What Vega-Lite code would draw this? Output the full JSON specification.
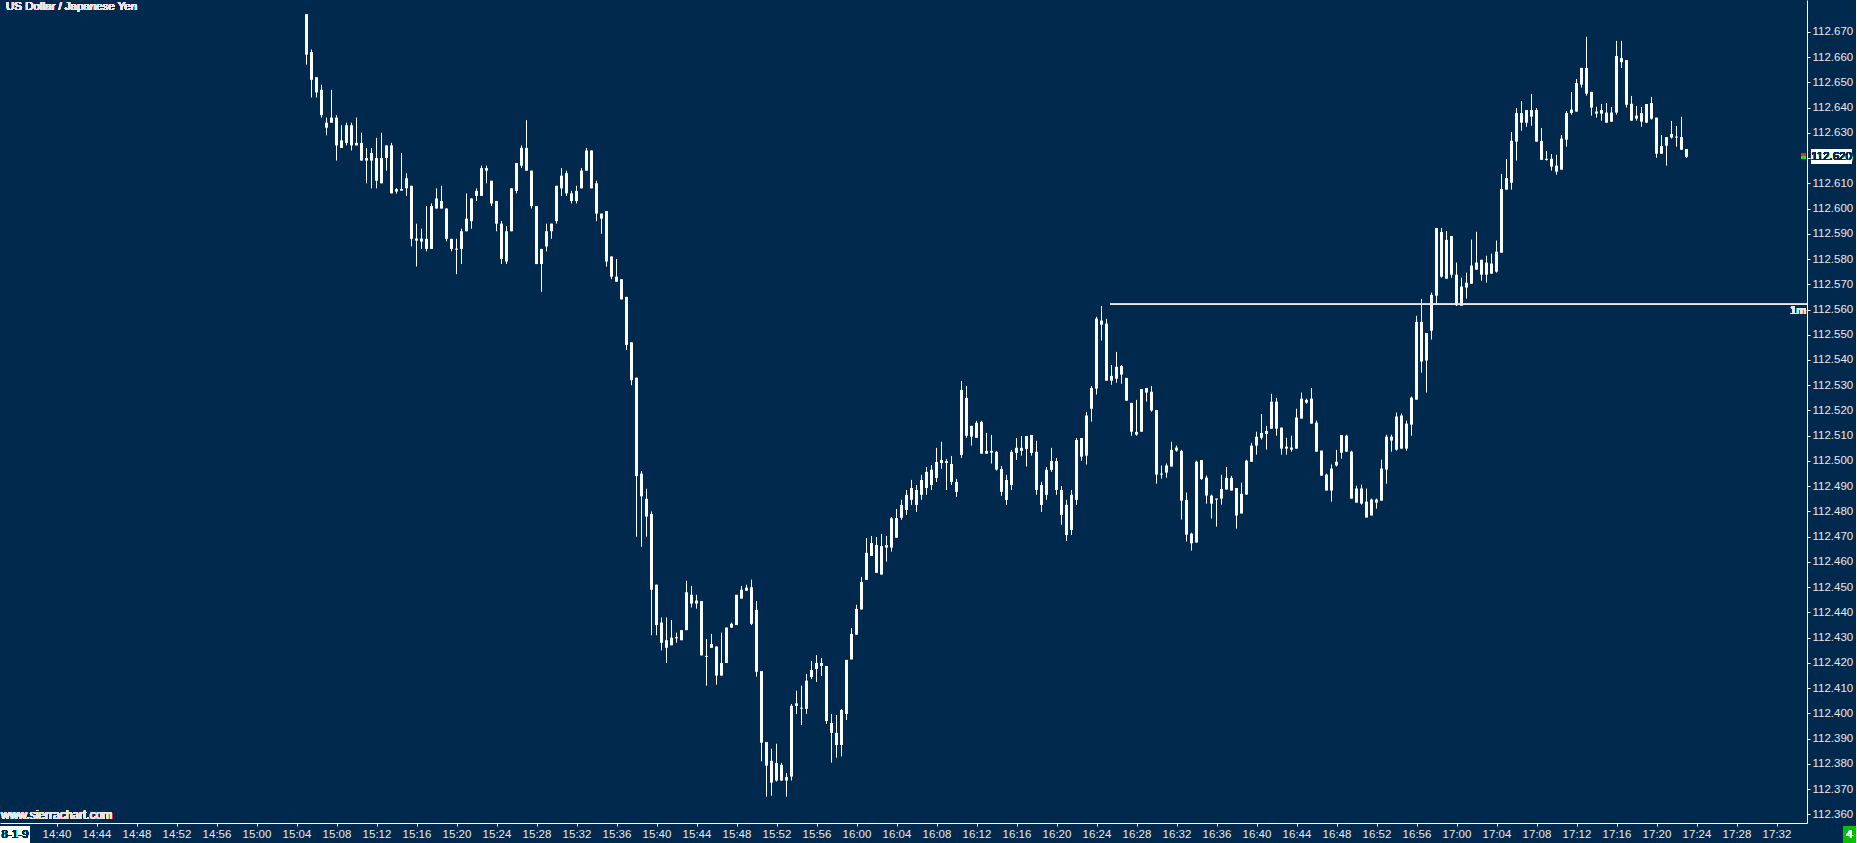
{
"$schema": "https://vega.github.io/schema/vega-lite/v6.json",
"width": 1807,
"height": 823,
"padding": 0,
"background": "#01294d",
"config": {
"view": {"stroke": null},
"axis": {"grid": false, "title": null, "domainColor": "#ffffff", "tickColor": "#ffffff", "tickSize": 3, "labelColor": "#e8e8e8", "labelFont": "Liberation Sans, Arial, Roboto", "labelFontSize": 11.5, "labelPadding": 2, "labelFlush": false, "labelOverlap": false},
"text": {"font": "Liberation Sans, Arial, Roboto", "fontSize": 11.5}
},
"data": {"values": [
{"t":"2018-01-09T15:05:00Z","o":112.677,"h":112.677,"l":112.657,"c":112.661},
{"t":"2018-01-09T15:05:30Z","o":112.662,"h":112.663,"l":112.644,"c":112.651},
{"t":"2018-01-09T15:06:00Z","o":112.652,"h":112.652,"l":112.644,"c":112.646},
{"t":"2018-01-09T15:06:30Z","o":112.647,"h":112.649,"l":112.636,"c":112.637},
{"t":"2018-01-09T15:07:00Z","o":112.634,"h":112.636,"l":112.629,"c":112.632},
{"t":"2018-01-09T15:07:30Z","o":112.634,"h":112.647,"l":112.634,"c":112.636},
{"t":"2018-01-09T15:08:00Z","o":112.636,"h":112.637,"l":112.619,"c":112.625},
{"t":"2018-01-09T15:08:30Z","o":112.624,"h":112.633,"l":112.624,"c":112.627},
{"t":"2018-01-09T15:09:00Z","o":112.626,"h":112.634,"l":112.625,"c":112.633},
{"t":"2018-01-09T15:09:30Z","o":112.633,"h":112.634,"l":112.623,"c":112.625},
{"t":"2018-01-09T15:10:00Z","o":112.625,"h":112.636,"l":112.625,"c":112.626},
{"t":"2018-01-09T15:10:30Z","o":112.626,"h":112.630,"l":112.619,"c":112.619},
{"t":"2018-01-09T15:11:00Z","o":112.619,"h":112.624,"l":112.610,"c":112.620},
{"t":"2018-01-09T15:11:30Z","o":112.622,"h":112.624,"l":112.608,"c":112.619},
{"t":"2018-01-09T15:12:00Z","o":112.620,"h":112.628,"l":112.608,"c":112.611},
{"t":"2018-01-09T15:12:30Z","o":112.610,"h":112.630,"l":112.610,"c":112.620},
{"t":"2018-01-09T15:13:00Z","o":112.620,"h":112.625,"l":112.615,"c":112.625},
{"t":"2018-01-09T15:13:30Z","o":112.625,"h":112.626,"l":112.606,"c":112.606},
{"t":"2018-01-09T15:14:00Z","o":112.6067,"h":112.6081,"l":112.6059,"c":112.6077},
{"t":"2018-01-09T15:14:30Z","o":112.6077,"h":112.622,"l":112.6071,"c":112.6071},
{"t":"2018-01-09T15:15:00Z","o":112.608,"h":112.614,"l":112.605,"c":112.612},
{"t":"2018-01-09T15:15:30Z","o":112.609,"h":112.609,"l":112.585,"c":112.588},
{"t":"2018-01-09T15:16:00Z","o":112.5881,"h":112.594,"l":112.577,"c":112.5873},
{"t":"2018-01-09T15:16:30Z","o":112.5869,"h":112.592,"l":112.584,"c":112.5881},
{"t":"2018-01-09T15:17:00Z","o":112.588,"h":112.601,"l":112.583,"c":112.584},
{"t":"2018-01-09T15:17:30Z","o":112.584,"h":112.602,"l":112.584,"c":112.601},
{"t":"2018-01-09T15:18:00Z","o":112.600,"h":112.608,"l":112.600,"c":112.604},
{"t":"2018-01-09T15:18:30Z","o":112.603,"h":112.609,"l":112.600,"c":112.600},
{"t":"2018-01-09T15:19:00Z","o":112.600,"h":112.600,"l":112.587,"c":112.588},
{"t":"2018-01-09T15:19:30Z","o":112.588,"h":112.588,"l":112.583,"c":112.584},
{"t":"2018-01-09T15:20:00Z","o":112.5841,"h":112.588,"l":112.574,"c":112.5837},
{"t":"2018-01-09T15:20:30Z","o":112.584,"h":112.592,"l":112.578,"c":112.591},
{"t":"2018-01-09T15:21:00Z","o":112.591,"h":112.606,"l":112.591,"c":112.596},
{"t":"2018-01-09T15:21:30Z","o":112.595,"h":112.604,"l":112.592,"c":112.604},
{"t":"2018-01-09T15:22:00Z","o":112.605,"h":112.608,"l":112.603,"c":112.607},
{"t":"2018-01-09T15:22:30Z","o":112.605,"h":112.617,"l":112.605,"c":112.616},
{"t":"2018-01-09T15:23:00Z","o":112.616,"h":112.617,"l":112.610,"c":112.615},
{"t":"2018-01-09T15:23:30Z","o":112.611,"h":112.611,"l":112.601,"c":112.602},
{"t":"2018-01-09T15:24:00Z","o":112.603,"h":112.603,"l":112.591,"c":112.594},
{"t":"2018-01-09T15:24:30Z","o":112.594,"h":112.595,"l":112.578,"c":112.580},
{"t":"2018-01-09T15:25:00Z","o":112.579,"h":112.593,"l":112.578,"c":112.591},
{"t":"2018-01-09T15:25:30Z","o":112.591,"h":112.608,"l":112.591,"c":112.608},
{"t":"2018-01-09T15:26:00Z","o":112.607,"h":112.618,"l":112.606,"c":112.618},
{"t":"2018-01-09T15:26:30Z","o":112.617,"h":112.625,"l":112.616,"c":112.624},
{"t":"2018-01-09T15:27:00Z","o":112.624,"h":112.635,"l":112.615,"c":112.615},
{"t":"2018-01-09T15:27:30Z","o":112.615,"h":112.615,"l":112.600,"c":112.601},
{"t":"2018-01-09T15:28:00Z","o":112.601,"h":112.601,"l":112.578,"c":112.578},
{"t":"2018-01-09T15:28:30Z","o":112.578,"h":112.584,"l":112.567,"c":112.584},
{"t":"2018-01-09T15:29:00Z","o":112.585,"h":112.594,"l":112.583,"c":112.591},
{"t":"2018-01-09T15:29:30Z","o":112.591,"h":112.594,"l":112.588,"c":112.594},
{"t":"2018-01-09T15:30:00Z","o":112.595,"h":112.609,"l":112.594,"c":112.609},
{"t":"2018-01-09T15:30:30Z","o":112.608,"h":112.616,"l":112.605,"c":112.613},
{"t":"2018-01-09T15:31:00Z","o":112.614,"h":112.615,"l":112.605,"c":112.606},
{"t":"2018-01-09T15:31:30Z","o":112.606,"h":112.607,"l":112.602,"c":112.603},
{"t":"2018-01-09T15:32:00Z","o":112.603,"h":112.609,"l":112.602,"c":112.607},
{"t":"2018-01-09T15:32:30Z","o":112.608,"h":112.616,"l":112.608,"c":112.615},
{"t":"2018-01-09T15:33:00Z","o":112.615,"h":112.624,"l":112.615,"c":112.623},
{"t":"2018-01-09T15:33:30Z","o":112.623,"h":112.623,"l":112.608,"c":112.608},
{"t":"2018-01-09T15:34:00Z","o":112.610,"h":112.611,"l":112.595,"c":112.598},
{"t":"2018-01-09T15:34:30Z","o":112.598,"h":112.598,"l":112.590,"c":112.596},
{"t":"2018-01-09T15:35:00Z","o":112.599,"h":112.599,"l":112.577,"c":112.579},
{"t":"2018-01-09T15:35:30Z","o":112.581,"h":112.581,"l":112.572,"c":112.573},
{"t":"2018-01-09T15:36:00Z","o":112.573,"h":112.580,"l":112.571,"c":112.571},
{"t":"2018-01-09T15:36:30Z","o":112.572,"h":112.572,"l":112.564,"c":112.564},
{"t":"2018-01-09T15:37:00Z","o":112.565,"h":112.565,"l":112.544,"c":112.546},
{"t":"2018-01-09T15:37:30Z","o":112.547,"h":112.547,"l":112.530,"c":112.532},
{"t":"2018-01-09T15:38:00Z","o":112.533,"h":112.533,"l":112.470,"c":112.494},
{"t":"2018-01-09T15:38:30Z","o":112.495,"h":112.496,"l":112.466,"c":112.486},
{"t":"2018-01-09T15:39:00Z","o":112.485,"h":112.489,"l":112.470,"c":112.478},
{"t":"2018-01-09T15:39:30Z","o":112.479,"h":112.480,"l":112.431,"c":112.449},
{"t":"2018-01-09T15:40:00Z","o":112.451,"h":112.451,"l":112.431,"c":112.435},
{"t":"2018-01-09T15:40:30Z","o":112.436,"h":112.438,"l":112.425,"c":112.428},
{"t":"2018-01-09T15:41:00Z","o":112.429,"h":112.438,"l":112.420,"c":112.426},
{"t":"2018-01-09T15:41:30Z","o":112.427,"h":112.437,"l":112.427,"c":112.430},
{"t":"2018-01-09T15:42:00Z","o":112.4297,"h":112.432,"l":112.428,"c":112.4302},
{"t":"2018-01-09T15:42:30Z","o":112.429,"h":112.433,"l":112.429,"c":112.433},
{"t":"2018-01-09T15:43:00Z","o":112.433,"h":112.4525,"l":112.433,"c":112.448},
{"t":"2018-01-09T15:43:30Z","o":112.447,"h":112.4505,"l":112.442,"c":112.4435},
{"t":"2018-01-09T15:44:00Z","o":112.4435,"h":112.447,"l":112.4415,"c":112.4447},
{"t":"2018-01-09T15:44:30Z","o":112.4445,"h":112.4445,"l":112.423,"c":112.423},
{"t":"2018-01-09T15:45:00Z","o":112.4228,"h":112.4295,"l":112.411,"c":112.4224},
{"t":"2018-01-09T15:45:30Z","o":112.426,"h":112.4315,"l":112.426,"c":112.4275},
{"t":"2018-01-09T15:46:00Z","o":112.4265,"h":112.4265,"l":112.4114,"c":112.415},
{"t":"2018-01-09T15:46:30Z","o":112.415,"h":112.432,"l":112.415,"c":112.420},
{"t":"2018-01-09T15:47:00Z","o":112.420,"h":112.434,"l":112.420,"c":112.434},
{"t":"2018-01-09T15:47:30Z","o":112.434,"h":112.436,"l":112.434,"c":112.4355},
{"t":"2018-01-09T15:48:00Z","o":112.435,"h":112.447,"l":112.435,"c":112.447},
{"t":"2018-01-09T15:48:30Z","o":112.4455,"h":112.4505,"l":112.4455,"c":112.449},
{"t":"2018-01-09T15:49:00Z","o":112.4486,"h":112.451,"l":112.4486,"c":112.4498},
{"t":"2018-01-09T15:49:30Z","o":112.450,"h":112.453,"l":112.435,"c":112.4355},
{"t":"2018-01-09T15:50:00Z","o":112.441,"h":112.4445,"l":112.4146,"c":112.4165},
{"t":"2018-01-09T15:50:30Z","o":112.4168,"h":112.4168,"l":112.381,"c":112.3884},
{"t":"2018-01-09T15:51:00Z","o":112.3887,"h":112.3887,"l":112.367,"c":112.3793},
{"t":"2018-01-09T15:51:30Z","o":112.3812,"h":112.386,"l":112.3674,"c":112.3726},
{"t":"2018-01-09T15:52:00Z","o":112.3734,"h":112.388,"l":112.373,"c":112.3804},
{"t":"2018-01-09T15:52:30Z","o":112.3796,"h":112.3804,"l":112.3734,"c":112.3734},
{"t":"2018-01-09T15:53:00Z","o":112.3734,"h":112.3764,"l":112.367,"c":112.3748},
{"t":"2018-01-09T15:53:30Z","o":112.375,"h":112.4037,"l":112.3734,"c":112.403},
{"t":"2018-01-09T15:54:00Z","o":112.403,"h":112.409,"l":112.3998,"c":112.404},
{"t":"2018-01-09T15:54:30Z","o":112.4023,"h":112.411,"l":112.3954,"c":112.4019},
{"t":"2018-01-09T15:55:00Z","o":112.4018,"h":112.4156,"l":112.3998,"c":112.413},
{"t":"2018-01-09T15:55:30Z","o":112.4144,"h":112.4208,"l":112.4136,"c":112.4172},
{"t":"2018-01-09T15:56:00Z","o":112.4176,"h":112.4231,"l":112.4125,"c":112.420},
{"t":"2018-01-09T15:56:30Z","o":112.420,"h":112.422,"l":112.4148,"c":112.4188},
{"t":"2018-01-09T15:57:00Z","o":112.4188,"h":112.4188,"l":112.3958,"c":112.397},
{"t":"2018-01-09T15:57:30Z","o":112.3962,"h":112.3998,"l":112.3805,"c":112.3923},
{"t":"2018-01-09T15:58:00Z","o":112.3923,"h":112.3994,"l":112.3825,"c":112.3875},
{"t":"2018-01-09T15:58:30Z","o":112.3875,"h":112.4018,"l":112.383,"c":112.4014},
{"t":"2018-01-09T15:59:00Z","o":112.3998,"h":112.4212,"l":112.3974,"c":112.4212},
{"t":"2018-01-09T15:59:30Z","o":112.4214,"h":112.4338,"l":112.4214,"c":112.4315},
{"t":"2018-01-09T16:00:00Z","o":112.4312,"h":112.443,"l":112.4312,"c":112.4414},
{"t":"2018-01-09T16:00:30Z","o":112.4412,"h":112.4541,"l":112.4412,"c":112.4521},
{"t":"2018-01-09T16:01:00Z","o":112.4529,"h":112.4695,"l":112.4529,"c":112.4636},
{"t":"2018-01-09T16:01:30Z","o":112.4624,"h":112.4703,"l":112.4624,"c":112.4675},
{"t":"2018-01-09T16:02:00Z","o":112.4667,"h":112.4699,"l":112.4557,"c":112.4557},
{"t":"2018-01-09T16:02:30Z","o":112.455,"h":112.4711,"l":112.455,"c":112.4663},
{"t":"2018-01-09T16:03:00Z","o":112.4657,"h":112.4703,"l":112.4601,"c":112.4667},
{"t":"2018-01-09T16:03:30Z","o":112.4657,"h":112.4778,"l":112.4641,"c":112.4773},
{"t":"2018-01-09T16:04:00Z","o":112.4774,"h":112.481,"l":112.4696,"c":112.4696},
{"t":"2018-01-09T16:04:30Z","o":112.4775,"h":112.4846,"l":112.4767,"c":112.4826},
{"t":"2018-01-09T16:05:00Z","o":112.4806,"h":112.4885,"l":112.4786,"c":112.4866},
{"t":"2018-01-09T16:05:30Z","o":112.4846,"h":112.4925,"l":112.4826,"c":112.4893},
{"t":"2018-01-09T16:06:00Z","o":112.4885,"h":112.4905,"l":112.4798,"c":112.4826},
{"t":"2018-01-09T16:06:30Z","o":112.4866,"h":112.4945,"l":112.4846,"c":112.4925},
{"t":"2018-01-09T16:07:00Z","o":112.4893,"h":112.4976,"l":112.4866,"c":112.4957},
{"t":"2018-01-09T16:07:30Z","o":112.4965,"h":112.4984,"l":112.4885,"c":112.4905},
{"t":"2018-01-09T16:08:00Z","o":112.4933,"h":112.5052,"l":112.4917,"c":112.4996},
{"t":"2018-01-09T16:08:30Z","o":112.4992,"h":112.5076,"l":112.4969,"c":112.5004},
{"t":"2018-01-09T16:09:00Z","o":112.500,"h":112.5008,"l":112.4885,"c":112.4992},
{"t":"2018-01-09T16:09:30Z","o":112.4988,"h":112.502,"l":112.4905,"c":112.4917},
{"t":"2018-01-09T16:10:00Z","o":112.4917,"h":112.4929,"l":112.4858,"c":112.4878},
{"t":"2018-01-09T16:10:30Z","o":112.5024,"h":112.5317,"l":112.5012,"c":112.5281},
{"t":"2018-01-09T16:11:00Z","o":112.525,"h":112.5297,"l":112.5092,"c":112.510},
{"t":"2018-01-09T16:11:30Z","o":112.5096,"h":112.5139,"l":112.5061,"c":112.5139},
{"t":"2018-01-09T16:12:00Z","o":112.5092,"h":112.5159,"l":112.5092,"c":112.5151},
{"t":"2018-01-09T16:12:30Z","o":112.5155,"h":112.5159,"l":112.5029,"c":112.5029},
{"t":"2018-01-09T16:13:00Z","o":112.5029,"h":112.5111,"l":112.5029,"c":112.504},
{"t":"2018-01-09T16:13:30Z","o":112.504,"h":112.5103,"l":112.499,"c":112.5033},
{"t":"2018-01-09T16:14:00Z","o":112.5036,"h":112.504,"l":112.4962,"c":112.4966},
{"t":"2018-01-09T16:14:30Z","o":112.4969,"h":112.498,"l":112.4862,"c":112.4878},
{"t":"2018-01-09T16:15:00Z","o":112.4846,"h":112.4945,"l":112.4826,"c":112.4925},
{"t":"2018-01-09T16:15:30Z","o":112.4905,"h":112.5044,"l":112.4885,"c":112.5036},
{"t":"2018-01-09T16:16:00Z","o":112.5032,"h":112.5091,"l":112.5004,"c":112.5052},
{"t":"2018-01-09T16:16:30Z","o":112.5052,"h":112.5099,"l":112.5021,"c":112.504},
{"t":"2018-01-09T16:17:00Z","o":112.5048,"h":112.5099,"l":112.4978,"c":112.5099},
{"t":"2018-01-09T16:17:30Z","o":112.5103,"h":112.5103,"l":112.5021,"c":112.5032},
{"t":"2018-01-09T16:18:00Z","o":112.5036,"h":112.508,"l":112.4866,"c":112.4885},
{"t":"2018-01-09T16:18:30Z","o":112.4905,"h":112.4917,"l":112.4798,"c":112.4826},
{"t":"2018-01-09T16:19:00Z","o":112.4866,"h":112.4976,"l":112.4846,"c":112.4965},
{"t":"2018-01-09T16:19:30Z","o":112.4965,"h":112.5052,"l":112.4957,"c":112.500},
{"t":"2018-01-09T16:20:00Z","o":112.500,"h":112.5012,"l":112.4866,"c":112.4885},
{"t":"2018-01-09T16:20:30Z","o":112.4885,"h":112.4901,"l":112.4747,"c":112.4786},
{"t":"2018-01-09T16:21:00Z","o":112.4826,"h":112.4846,"l":112.4683,"c":112.4707},
{"t":"2018-01-09T16:21:30Z","o":112.4727,"h":112.4885,"l":112.4707,"c":112.4866},
{"t":"2018-01-09T16:22:00Z","o":112.4846,"h":112.5091,"l":112.4826,"c":112.5083},
{"t":"2018-01-09T16:22:30Z","o":112.5091,"h":112.5091,"l":112.5001,"c":112.5017},
{"t":"2018-01-09T16:23:00Z","o":112.5021,"h":112.5194,"l":112.4986,"c":112.518},
{"t":"2018-01-09T16:23:30Z","o":112.5207,"h":112.5297,"l":112.5156,"c":112.5289},
{"t":"2018-01-09T16:24:00Z","o":112.5287,"h":112.5571,"l":112.5263,"c":112.5564},
{"t":"2018-01-09T16:24:30Z","o":112.5556,"h":112.5614,"l":112.5477,"c":112.554},
{"t":"2018-01-09T16:25:00Z","o":112.5544,"h":112.5563,"l":112.5318,"c":112.5318},
{"t":"2018-01-09T16:25:30Z","o":112.5318,"h":112.538,"l":112.5302,"c":112.5337},
{"t":"2018-01-09T16:26:00Z","o":112.5326,"h":112.5432,"l":112.531,"c":112.5373},
{"t":"2018-01-09T16:26:30Z","o":112.5376,"h":112.538,"l":112.5306,"c":112.5342},
{"t":"2018-01-09T16:27:00Z","o":112.5329,"h":112.5329,"l":112.5239,"c":112.5239},
{"t":"2018-01-09T16:27:30Z","o":112.523,"h":112.523,"l":112.510,"c":112.5116},
{"t":"2018-01-09T16:28:00Z","o":112.5104,"h":112.5242,"l":112.510,"c":112.5115},
{"t":"2018-01-09T16:28:30Z","o":112.5116,"h":112.5285,"l":112.5116,"c":112.5285},
{"t":"2018-01-09T16:29:00Z","o":112.5289,"h":112.5289,"l":112.5235,"c":112.5271},
{"t":"2018-01-09T16:29:30Z","o":112.5274,"h":112.5297,"l":112.5195,"c":112.520},
{"t":"2018-01-09T16:30:00Z","o":112.5202,"h":112.5202,"l":112.491,"c":112.4946},
{"t":"2018-01-09T16:30:30Z","o":112.4946,"h":112.4982,"l":112.493,"c":112.495},
{"t":"2018-01-09T16:31:00Z","o":112.4954,"h":112.499,"l":112.4934,"c":112.4982},
{"t":"2018-01-09T16:31:30Z","o":112.4978,"h":112.5076,"l":112.4978,"c":112.5044},
{"t":"2018-01-09T16:32:00Z","o":112.5041,"h":112.5061,"l":112.5037,"c":112.5053},
{"t":"2018-01-09T16:32:30Z","o":112.504,"h":112.5044,"l":112.4768,"c":112.4843},
{"t":"2018-01-09T16:33:00Z","o":112.4846,"h":112.4875,"l":112.4681,"c":112.4708},
{"t":"2018-01-09T16:33:30Z","o":112.4712,"h":112.4716,"l":112.4645,"c":112.4674},
{"t":"2018-01-09T16:34:00Z","o":112.4677,"h":112.5001,"l":112.4677,"c":112.4997},
{"t":"2018-01-09T16:34:30Z","o":112.5004,"h":112.5004,"l":112.4925,"c":112.4929},
{"t":"2018-01-09T16:35:00Z","o":112.4934,"h":112.4942,"l":112.4831,"c":112.4863},
{"t":"2018-01-09T16:35:30Z","o":112.4863,"h":112.4867,"l":112.4772,"c":112.4831},
{"t":"2018-01-09T16:36:00Z","o":112.4847,"h":112.4851,"l":112.474,"c":112.4851},
{"t":"2018-01-09T16:36:30Z","o":112.4851,"h":112.4945,"l":112.4827,"c":112.4889},
{"t":"2018-01-09T16:37:00Z","o":112.4887,"h":112.4976,"l":112.4887,"c":112.4933},
{"t":"2018-01-09T16:37:30Z","o":112.4933,"h":112.4941,"l":112.4883,"c":112.4883},
{"t":"2018-01-09T16:38:00Z","o":112.4893,"h":112.4893,"l":112.4732,"c":112.4784},
{"t":"2018-01-09T16:38:30Z","o":112.4792,"h":112.4914,"l":112.4792,"c":112.487},
{"t":"2018-01-09T16:39:00Z","o":112.4867,"h":112.5005,"l":112.4867,"c":112.5001},
{"t":"2018-01-09T16:39:30Z","o":112.4997,"h":112.5072,"l":112.4997,"c":112.5061},
{"t":"2018-01-09T16:40:00Z","o":112.5061,"h":112.5116,"l":112.5025,"c":112.5096},
{"t":"2018-01-09T16:40:30Z","o":112.5092,"h":112.5186,"l":112.5085,"c":112.5111},
{"t":"2018-01-09T16:41:00Z","o":112.5119,"h":112.5139,"l":112.5045,"c":112.5107},
{"t":"2018-01-09T16:41:30Z","o":112.5128,"h":112.5266,"l":112.5128,"c":112.5235},
{"t":"2018-01-09T16:42:00Z","o":112.5235,"h":112.525,"l":112.510,"c":112.5128},
{"t":"2018-01-09T16:42:30Z","o":112.5132,"h":112.5132,"l":112.5025,"c":112.5049},
{"t":"2018-01-09T16:43:00Z","o":112.5049,"h":112.5092,"l":112.5025,"c":112.5057},
{"t":"2018-01-09T16:43:30Z","o":112.5053,"h":112.510,"l":112.5037,"c":112.5045},
{"t":"2018-01-09T16:44:00Z","o":112.5049,"h":112.5207,"l":112.5049,"c":112.5172},
{"t":"2018-01-09T16:44:30Z","o":112.5168,"h":112.5271,"l":112.5168,"c":112.5247},
{"t":"2018-01-09T16:45:00Z","o":112.5242,"h":112.5247,"l":112.5227,"c":112.5231},
{"t":"2018-01-09T16:45:30Z","o":112.5247,"h":112.5289,"l":112.5148,"c":112.5148},
{"t":"2018-01-09T16:46:00Z","o":112.5152,"h":112.516,"l":112.5037,"c":112.5037},
{"t":"2018-01-09T16:46:30Z","o":112.5041,"h":112.5041,"l":112.4942,"c":112.4942},
{"t":"2018-01-09T16:47:00Z","o":112.4946,"h":112.495,"l":112.4883,"c":112.4883},
{"t":"2018-01-09T16:47:30Z","o":112.4883,"h":112.4986,"l":112.4839,"c":112.497},
{"t":"2018-01-09T16:48:00Z","o":112.4982,"h":112.5044,"l":112.4978,"c":112.4997},
{"t":"2018-01-09T16:48:30Z","o":112.5033,"h":112.5103,"l":112.5009,"c":112.5103},
{"t":"2018-01-09T16:49:00Z","o":112.510,"h":112.5104,"l":112.5037,"c":112.5037},
{"t":"2018-01-09T16:49:30Z","o":112.5037,"h":112.5041,"l":112.4851,"c":112.4851},
{"t":"2018-01-09T16:50:00Z","o":112.4891,"h":112.4902,"l":112.4835,"c":112.4835},
{"t":"2018-01-09T16:50:30Z","o":112.4831,"h":112.4906,"l":112.4827,"c":112.4891},
{"t":"2018-01-09T16:51:00Z","o":112.4839,"h":112.4891,"l":112.4776,"c":112.4776},
{"t":"2018-01-09T16:51:30Z","o":112.4784,"h":112.4851,"l":112.4784,"c":112.4847},
{"t":"2018-01-09T16:52:00Z","o":112.4835,"h":112.4851,"l":112.4811,"c":112.4847},
{"t":"2018-01-09T16:52:30Z","o":112.4843,"h":112.5005,"l":112.4843,"c":112.497},
{"t":"2018-01-09T16:53:00Z","o":112.4966,"h":112.5104,"l":112.491,"c":112.5096},
{"t":"2018-01-09T16:53:30Z","o":112.5096,"h":112.5104,"l":112.5037,"c":112.5081},
{"t":"2018-01-09T16:54:00Z","o":112.5045,"h":112.5192,"l":112.5041,"c":112.5176},
{"t":"2018-01-09T16:54:30Z","o":112.518,"h":112.5188,"l":112.5049,"c":112.5049},
{"t":"2018-01-09T16:55:00Z","o":112.5049,"h":112.516,"l":112.5041,"c":112.5148},
{"t":"2018-01-09T16:55:30Z","o":112.5144,"h":112.5255,"l":112.510,"c":112.5251},
{"t":"2018-01-09T16:56:00Z","o":112.5243,"h":112.5575,"l":112.5243,"c":112.5551},
{"t":"2018-01-09T16:56:30Z","o":112.5551,"h":112.5642,"l":112.535,"c":112.5394},
{"t":"2018-01-09T16:57:00Z","o":112.5398,"h":112.5507,"l":112.5271,"c":112.5507},
{"t":"2018-01-09T16:57:30Z","o":112.5516,"h":112.5667,"l":112.5481,"c":112.5658},
{"t":"2018-01-09T16:58:00Z","o":112.5655,"h":112.5923,"l":112.5622,"c":112.5923},
{"t":"2018-01-09T16:58:30Z","o":112.5907,"h":112.5923,"l":112.5726,"c":112.573},
{"t":"2018-01-09T16:59:00Z","o":112.5876,"h":112.5911,"l":112.5722,"c":112.5722},
{"t":"2018-01-09T16:59:30Z","o":112.5738,"h":112.5891,"l":112.5726,"c":112.5891},
{"t":"2018-01-09T17:00:00Z","o":112.5738,"h":112.5786,"l":112.5614,"c":112.5617},
{"t":"2018-01-09T17:00:30Z","o":112.5615,"h":112.5726,"l":112.5615,"c":112.5691},
{"t":"2018-01-09T17:01:00Z","o":112.5687,"h":112.5746,"l":112.5643,"c":112.5706},
{"t":"2018-01-09T17:01:30Z","o":112.5702,"h":112.5877,"l":112.5702,"c":112.5774},
{"t":"2018-01-09T17:02:00Z","o":112.5758,"h":112.5908,"l":112.5758,"c":112.5786},
{"t":"2018-01-09T17:02:30Z","o":112.5797,"h":112.5797,"l":112.5714,"c":112.5738},
{"t":"2018-01-09T17:03:00Z","o":112.5738,"h":112.5813,"l":112.5706,"c":112.5786},
{"t":"2018-01-09T17:03:30Z","o":112.5782,"h":112.5821,"l":112.5742,"c":112.5742},
{"t":"2018-01-09T17:04:00Z","o":112.575,"h":112.5873,"l":112.5746,"c":112.5829},
{"t":"2018-01-09T17:04:30Z","o":112.5825,"h":112.6137,"l":112.5825,"c":112.6077},
{"t":"2018-01-09T17:05:00Z","o":112.6075,"h":112.6196,"l":112.6075,"c":112.6121},
{"t":"2018-01-09T17:05:30Z","o":112.6102,"h":112.6303,"l":112.6075,"c":112.6268},
{"t":"2018-01-09T17:06:00Z","o":112.6265,"h":112.6398,"l":112.619,"c":112.6378},
{"t":"2018-01-09T17:06:30Z","o":112.6378,"h":112.6426,"l":112.6308,"c":112.634},
{"t":"2018-01-09T17:07:00Z","o":112.634,"h":112.639,"l":112.6324,"c":112.639},
{"t":"2018-01-09T17:07:30Z","o":112.639,"h":112.6454,"l":112.6328,"c":112.6364},
{"t":"2018-01-09T17:08:00Z","o":112.639,"h":112.6398,"l":112.6265,"c":112.6265},
{"t":"2018-01-09T17:08:30Z","o":112.6268,"h":112.6319,"l":112.6193,"c":112.6193},
{"t":"2018-01-09T17:09:00Z","o":112.6192,"h":112.6228,"l":112.619,"c":112.6197},
{"t":"2018-01-09T17:09:30Z","o":112.6197,"h":112.6216,"l":112.615,"c":112.6166},
{"t":"2018-01-09T17:10:00Z","o":112.617,"h":112.6213,"l":112.6134,"c":112.6146},
{"t":"2018-01-09T17:10:30Z","o":112.6154,"h":112.6291,"l":112.6154,"c":112.6277},
{"t":"2018-01-09T17:11:00Z","o":112.6273,"h":112.6386,"l":112.6245,"c":112.6378},
{"t":"2018-01-09T17:11:30Z","o":112.6378,"h":112.6462,"l":112.6372,"c":112.6392},
{"t":"2018-01-09T17:12:00Z","o":112.6384,"h":112.6513,"l":112.6384,"c":112.6497},
{"t":"2018-01-09T17:12:30Z","o":112.6491,"h":112.6557,"l":112.6479,"c":112.6557},
{"t":"2018-01-09T17:13:00Z","o":112.6557,"h":112.668,"l":112.6447,"c":112.6455},
{"t":"2018-01-09T17:13:30Z","o":112.6462,"h":112.6462,"l":112.6368,"c":112.640},
{"t":"2018-01-09T17:14:00Z","o":112.6384,"h":112.6403,"l":112.636,"c":112.6376},
{"t":"2018-01-09T17:14:30Z","o":112.6376,"h":112.6414,"l":112.6348,"c":112.639},
{"t":"2018-01-09T17:15:00Z","o":112.638,"h":112.6418,"l":112.634,"c":112.634},
{"t":"2018-01-09T17:15:30Z","o":112.6344,"h":112.6402,"l":112.6344,"c":112.638},
{"t":"2018-01-09T17:16:00Z","o":112.638,"h":112.6664,"l":112.6372,"c":112.6604},
{"t":"2018-01-09T17:16:30Z","o":112.6596,"h":112.6664,"l":112.6557,"c":112.658},
{"t":"2018-01-09T17:17:00Z","o":112.6588,"h":112.6588,"l":112.640,"c":112.6411},
{"t":"2018-01-09T17:17:30Z","o":112.6415,"h":112.6446,"l":112.6348,"c":112.6348},
{"t":"2018-01-09T17:18:00Z","o":112.6356,"h":112.6406,"l":112.6348,"c":112.6368},
{"t":"2018-01-09T17:18:30Z","o":112.6344,"h":112.6402,"l":112.6324,"c":112.6378},
{"t":"2018-01-09T17:19:00Z","o":112.634,"h":112.6414,"l":112.634,"c":112.6414},
{"t":"2018-01-09T17:19:30Z","o":112.6418,"h":112.6442,"l":112.6352,"c":112.6356},
{"t":"2018-01-09T17:20:00Z","o":112.636,"h":112.636,"l":112.6201,"c":112.6217},
{"t":"2018-01-09T17:20:30Z","o":112.6217,"h":112.6291,"l":112.6217,"c":112.6248},
{"t":"2018-01-09T17:21:00Z","o":112.6249,"h":112.6283,"l":112.617,"c":112.6283},
{"t":"2018-01-09T17:21:30Z","o":112.6281,"h":112.6347,"l":112.6277,"c":112.6295},
{"t":"2018-01-09T17:22:00Z","o":112.6285,"h":112.6327,"l":112.6245,"c":112.6281},
{"t":"2018-01-09T17:22:30Z","o":112.6283,"h":112.6363,"l":112.6233,"c":112.6233},
{"t":"2018-01-09T17:23:00Z","o":112.6236,"h":112.6236,"l":112.620,"c":112.6205}
]},
"layer": [
{
"mark": {"type": "rule", "color": "#ffffff", "strokeWidth": 1},
"encoding": {
"x": {"field": "t", "type": "temporal",
"scale": {"type": "utc", "domain": [1515508461000, 1515519303000], "padding": 0, "nice": false},
"axis": {"format": "%H:%M", "labelOverlap": false, "tickCount": 60, "values": [1515508800000, 1515509040000, 1515509280000, 1515509520000, 1515509760000, 1515510000000, 1515510240000, 1515510480000, 1515510720000, 1515510960000, 1515511200000, 1515511440000, 1515511680000, 1515511920000, 1515512160000, 1515512400000, 1515512640000, 1515512880000, 1515513120000, 1515513360000, 1515513600000, 1515513840000, 1515514080000, 1515514320000, 1515514560000, 1515514800000, 1515515040000, 1515515280000, 1515515520000, 1515515760000, 1515516000000, 1515516240000, 1515516480000, 1515516720000, 1515516960000, 1515517200000, 1515517440000, 1515517680000, 1515517920000, 1515518160000, 1515518400000, 1515518640000, 1515518880000, 1515519120000]}},
"y": {"field": "l", "type": "quantitative",
"scale": {"domain": [112.3566, 112.6826], "nice": false, "zero": false, "padding": 0},
"axis": {"orient": "right", "format": ".3f", "labelOverlap": false, "labelBound": false, "tickCount": 40,
"values": [112.36, 112.37, 112.38, 112.39, 112.40, 112.41, 112.42, 112.43, 112.44, 112.45, 112.46, 112.47, 112.48, 112.49, 112.50, 112.51, 112.52, 112.53, 112.54, 112.55, 112.56, 112.57, 112.58, 112.59, 112.60, 112.61, 112.62, 112.63, 112.64, 112.65, 112.66, 112.67]}},
"y2": {"field": "h"}
}
},
{
"mark": {"type": "bar", "color": "#ffffff", "width": 3},
"encoding": {
"x": {"field": "t", "type": "temporal"},
"y": {"field": "o", "type": "quantitative"},
"y2": {"field": "c"}
}
},
{
"mark": {"type": "rule", "color": "#e6e6e6", "strokeWidth": 1},
"encoding": {
"x": {"datum": 1515515124000, "type": "temporal"},
"x2": {"datum": 1515519303000},
"y": {"datum": 112.562, "type": "quantitative"}
}
},
{
"mark": {"type": "text", "text": "1m", "align": "right", "baseline": "top", "dx": -1, "dy": 1, "color": "#e8e8e8"},
"encoding": {
"x": {"datum": 1515519303000, "type": "temporal"},
"y": {"datum": 112.562, "type": "quantitative"}
}
},
{
"mark": {"type": "text", "text": "US Dollar / Japanese Yen", "align": "left", "baseline": "top", "dx": 6, "dy": 1, "color": "#e8e8e8"},
"encoding": {
"x": {"datum": 1515508461000, "type": "temporal"},
"y": {"datum": 112.6826, "type": "quantitative"}
}
},
{
"mark": {"type": "text", "text": "www.sierrachart.com", "align": "left", "baseline": "bottom", "dx": 1, "dy": -1, "color": "#e8e8e8", "fontSize": 12},
"encoding": {
"x": {"datum": 1515508461000, "type": "temporal"},
"y": {"datum": 112.3566, "type": "quantitative"}
}
},
{
"mark": {"type": "rect", "color": "#ffffff"},
"encoding": {
"x": {"datum": 1515519327000, "type": "temporal"},
"x2": {"datum": 1515519573000},
"y": {"datum": 112.6236, "type": "quantitative"},
"y2": {"datum": 112.6176}
}
},
{
"mark": {"type": "text", "text": "112.620", "align": "center", "baseline": "middle", "color": "#01294d"},
"encoding": {
"x": {"datum": 1515519450000, "type": "temporal"},
"y": {"datum": 112.6206, "type": "quantitative"}
}
},
{
"mark": {"type": "rect", "color": "#ff2020"},
"encoding": {
"x": {"datum": 1515519267000, "type": "temporal"},
"x2": {"datum": 1515519297000},
"y": {"datum": 112.6218, "type": "quantitative"},
"y2": {"datum": 112.6211}
}
},
{
"mark": {"type": "rect", "color": "#20e020"},
"encoding": {
"x": {"datum": 1515519267000, "type": "temporal"},
"x2": {"datum": 1515519297000},
"y": {"datum": 112.6206, "type": "quantitative"},
"y2": {"datum": 112.6198}
}
},
{
"mark": {"type": "rect", "color": "#ffffff"},
"encoding": {
"x": {"datum": 1515508461000, "type": "temporal"},
"x2": {"datum": 1515508641000},
"y": {"datum": 112.3552, "type": "quantitative"},
"y2": {"datum": 112.3488}
}
},
{
"mark": {"type": "text", "text": "8-1-9", "align": "center", "baseline": "middle", "color": "#01294d"},
"encoding": {
"x": {"datum": 1515508551000, "type": "temporal"},
"y": {"datum": 112.352, "type": "quantitative"}
}
},
{
"mark": {"type": "rect", "color": "#00c000"},
"encoding": {
"x": {"datum": 1515519519000, "type": "temporal"},
"x2": {"datum": 1515519597000},
"y": {"datum": 112.3552, "type": "quantitative"},
"y2": {"datum": 112.3488}
}
},
{
"mark": {"type": "text", "text": "4", "align": "center", "baseline": "middle", "color": "#ffffff"},
"encoding": {
"x": {"datum": 1515519558000, "type": "temporal"},
"y": {"datum": 112.352, "type": "quantitative"}
}
}
]
}
